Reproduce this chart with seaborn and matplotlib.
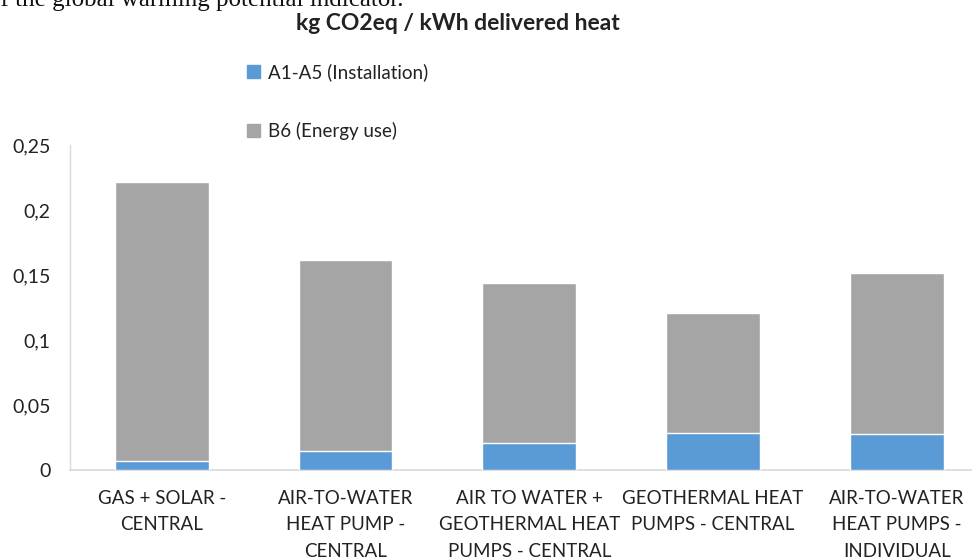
import pandas as pd
import numpy as np
import matplotlib
matplotlib.use("Agg")
import matplotlib.pyplot as plt
import seaborn as sns
from matplotlib.patches import Patch

# valores (kg CO2eq / kWh)
categorias = ["GAS + SOLAR -\nCENTRAL",
              "AIR-TO-WATER\nHEAT PUMP -\nCENTRAL",
              "AIR TO WATER +\nGEOTHERMAL HEAT\nPUMPS - CENTRAL",
              "GEOTHERMAL HEAT\nPUMPS - CENTRAL",
              "AIR-TO-WATER\nHEAT PUMPS -\nINDIVIDUAL"]
instalacion = [0.007, 0.0146, 0.021, 0.0285, 0.028]
energia = [0.2145, 0.1474, 0.123, 0.0925, 0.1235]
yticks = [0, 0.05, 0.1, 0.15, 0.2, 0.25]
ytick_labels = ["0", "0,05", "0,1", "0,15", "0,2", "0,25"]
leyenda = ["A1-A5 (Installation)", "B6 (Energy use)"]
titulo = "kg CO2eq / kWh delivered heat"

azul = "#5B9BD5"
gris = "#A5A5A5"
eje = "#D9D9D9"

sns.set_style("white")
plt.rcParams["font.family"] = ["Lato", "DejaVu Sans"]

df = pd.DataFrame({"cat": categorias, "A1A5": instalacion, "B6": energia})
df["total"] = df["A1A5"] + df["B6"]

fig = plt.figure(figsize=(9.72, 5.59), dpi=100)
ax = fig.add_axes([0.072, 0.159, 0.928, 0.5814])

# barra total en gris y la parte de instalacion en azul encima
sns.barplot(data=df, x="cat", y="total", color=gris, width=0.51,
            saturation=1, ax=ax, zorder=2)
sns.barplot(data=df, x="cat", y="A1A5", color=azul, width=0.51,
            saturation=1, ax=ax, zorder=3)

ax.set_xlim(-0.5, 4.41)
ax.set_ylim(0, 0.25)
ax.set_yticks(yticks)
ax.set_yticklabels(ytick_labels, fontsize=14, color="#222222")
ax.tick_params(axis="x", length=0, pad=14, labelsize=13.5, labelcolor="#222222")
ax.tick_params(axis="y", length=6, color=eje, width=1, pad=8)
ax.set_xlabel("")
ax.set_ylabel("")
for lab in ax.get_xticklabels():
    lab.set_linespacing(1.7)
for s in ["top", "right"]:
    ax.spines[s].set_visible(False)
ax.spines["left"].set_color(eje)
ax.spines["bottom"].set_color(eje)
ax.spines["left"].set_linewidth(1)
ax.spines["bottom"].set_linewidth(1.2)

fig.text(0.4715, 0.958, titulo, ha="center", va="center",
         fontsize=16.5, fontweight="bold", color="#222222")

# trozo de texto cortado arriba (como en la imagen original)
fig.text(-0.012, 1.0, "of the global warming potential indicator.", ha="left",
         va="center", fontsize=18, family="Liberation Serif", color="#111111")

handles = [Patch(color=azul), Patch(color=gris)]
fig.legend(handles, leyenda, loc="upper left", bbox_to_anchor=(0.237, 0.917),
           frameon=False, fontsize=13.5, labelspacing=2.2, handlelength=0.7,
           handleheight=0.7, handletextpad=0.4, labelcolor="#222222")

fig.savefig("out.png", dpi=100)
